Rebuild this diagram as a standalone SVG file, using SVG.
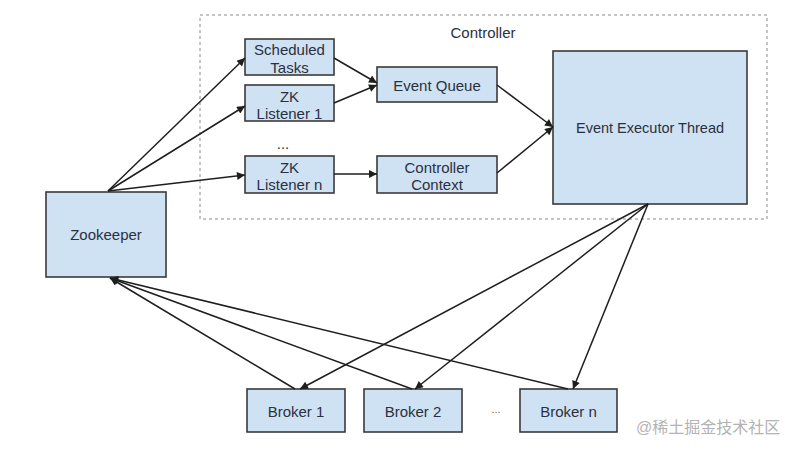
<svg xmlns="http://www.w3.org/2000/svg" width="802" height="450" viewBox="0 0 802 450">
<style>
.box{fill:#cfe2f3;stroke:#3a3a3a;stroke-width:1.6}
.t{font-family:"Liberation Sans",Arial,sans-serif;font-size:15px;fill:#2b3040;text-anchor:middle;dominant-baseline:central}
.c{stroke:#1e1e1e;stroke-width:1.5;fill:none;marker-end:url(#arr)}
.wm{font-family:"Liberation Sans","Noto Sans CJK SC",sans-serif;font-size:16px;fill:#b3b3b3}
</style>
<defs>
<marker id="arr" viewBox="0 0 10 10" refX="10" refY="5" markerWidth="10" markerHeight="8" orient="auto" markerUnits="userSpaceOnUse">
<path d="M0,0 L10,5 L0,10 z" fill="#1e1e1e"/>
</marker>
</defs>
<rect width="802" height="450" fill="#ffffff"/>
<g id="controller">
<rect x="200" y="15" width="567" height="204" fill="none" stroke="#8a8a8a" stroke-width="1" stroke-dasharray="3,3"/>
<text class="t" x="483" y="32">Controller</text>
</g>
<g id="zookeeper"><rect class="box" x="46" y="192" width="120" height="85"/><text class="t" x="106" y="234">Zookeeper</text></g>
<g id="scheduled-tasks"><rect class="box" x="245" y="39" width="89" height="36"/><text class="t" x="289.5" y="49">Scheduled</text><text class="t" x="289.5" y="67">Tasks</text></g>
<g id="zk-listener-1"><rect class="box" x="245" y="85" width="89" height="36"/><text class="t" x="289.5" y="96">ZK</text><text class="t" x="289.5" y="113">Listener 1</text></g>
<g id="listener-dots"><text class="t" x="283" y="143">...</text></g>
<g id="zk-listener-n"><rect class="box" x="245" y="156" width="89" height="37"/><text class="t" x="289.5" y="167">ZK</text><text class="t" x="289.5" y="184">Listener n</text></g>
<g id="event-queue"><rect class="box" x="377" y="67" width="120" height="35"/><text class="t" x="437" y="85">Event Queue</text></g>
<g id="controller-context"><rect class="box" x="377" y="156" width="120" height="37"/><text class="t" x="437" y="167">Controller</text><text class="t" x="437" y="184">Context</text></g>
<g id="event-executor-thread"><rect class="box" x="553" y="51" width="194" height="153"/><text class="t" x="650" y="128" style="font-size:14.5px">Event Executor Thread</text></g>
<g id="broker-1"><rect class="box" x="247" y="389" width="98" height="43"/><text class="t" x="296" y="411">Broker 1</text></g>
<g id="broker-2"><rect class="box" x="364" y="389" width="98" height="43"/><text class="t" x="413" y="411">Broker 2</text></g>
<g id="broker-dots"><text class="t" x="496" y="409" style="font-size:11px;fill:#666">...</text></g>
<g id="broker-n"><rect class="box" x="520" y="389" width="97" height="43"/><text class="t" x="568.5" y="411">Broker n</text></g>
<g id="connectors">
<line class="c" x1="108" y1="191" x2="245" y2="58"/>
<line class="c" x1="108" y1="191" x2="245" y2="106"/>
<line class="c" x1="108" y1="191" x2="245" y2="175"/>
<line class="c" x1="334" y1="58" x2="377" y2="83"/>
<line class="c" x1="334" y1="103" x2="377" y2="85"/>
<line class="c" x1="334" y1="174" x2="377" y2="174"/>
<line class="c" x1="497" y1="85" x2="553" y2="127"/>
<line class="c" x1="497" y1="173" x2="553" y2="127"/>
<line class="c" x1="648" y1="204" x2="300" y2="389"/>
<line class="c" x1="648" y1="204" x2="415" y2="389"/>
<line class="c" x1="648" y1="204" x2="573" y2="389"/>
<line class="c" x1="295" y1="389" x2="110" y2="278"/>
<line class="c" x1="412" y1="389" x2="110" y2="278"/>
<line class="c" x1="568" y1="389" x2="110" y2="278"/>
</g>
<text class="wm" x="636" y="433">@稀土掘金技术社区</text>
</svg>
